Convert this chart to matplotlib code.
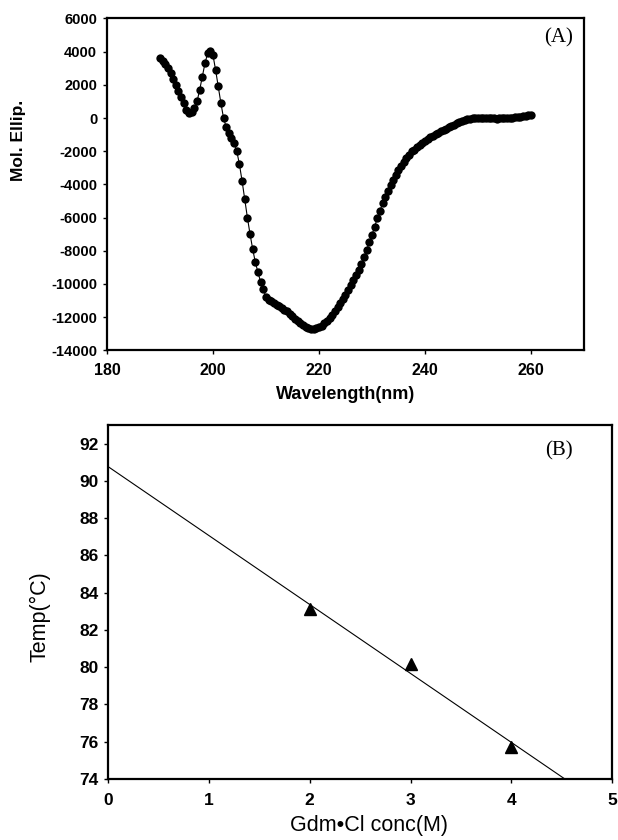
import numpy as np
import matplotlib
matplotlib.use("Agg")
import matplotlib.pyplot as plt

# panel A: CD spectrum, 0.5 nm steps from 190 to 260 nm
wavelength = np.arange(190.0, 260.01, 0.5)
mol_ellip = [
    3600, 3450, 3250, 3000, 2700, 2350, 2000, 1650, 1250, 900,
    500, 300, 350, 600, 1000, 1700, 2500, 3300, 3900, 4050,
    3800, 2900, 1900, 900, 0, -550, -900, -1200, -1500, -2000,
    -2800, -3800, -4900, -6000, -7000, -7900, -8700, -9300, -9900, -10300,
    -10800, -10950, -11050, -11150, -11250, -11350, -11450, -11550, -11650, -11800,
    -11950, -12100, -12250, -12380, -12480, -12570, -12640, -12690, -12700, -12680,
    -12620, -12520, -12380, -12220, -12040, -11850, -11640, -11420, -11180, -10920,
    -10650, -10370, -10080, -9780, -9470, -9150, -8800, -8400, -7950, -7500,
    -7050, -6550, -6050, -5600, -5150, -4750, -4400, -4050, -3750, -3450,
    -3150, -2900, -2650, -2400, -2200, -2000, -1900, -1750, -1600, -1480,
    -1370, -1260, -1160, -1060, -970, -880, -800, -720, -640, -560,
    -480, -400, -320, -250, -180, -120, -70, -40, -20, -10,
    0, 0, -10, -10, 0, 0, -20, -30, -20, -10,
    0, 0, 20, 20, 40, 60, 80, 100, 130, 170, 170,
]
mol_ellip = mol_ellip[:len(wavelength)]

# panel B: melting temperature vs denaturant
gdm_conc = [2, 3, 4]
temp_c = [83.1, 80.2, 75.7]

a_xticks = [180, 200, 220, 240, 260]
a_yticks = list(range(-14000, 6001, 2000))
b_xticks = [0, 1, 2, 3, 4, 5]
b_yticks = list(range(74, 93, 2))

bold_font = {"family": "Liberation Sans", "weight": "bold"}

fig = plt.figure(figsize=(6.18, 8.4), dpi=100)

# --- (A)
ax1 = fig.add_axes([0.173, 0.583, 0.772, 0.395])
ax1.plot(wavelength, mol_ellip, "-o", color="black", linewidth=0.8,
         markersize=6, markeredgewidth=0)
ax1.set_xlim(180, 270)
ax1.set_ylim(-14000, 6000)
ax1.set_xticks(a_xticks)
ax1.set_yticks(a_yticks)
ax1.set_xticklabels([str(t) for t in a_xticks], fontdict=bold_font, fontsize=11.5)
ax1.set_yticklabels([str(t) for t in a_yticks], fontdict=bold_font, fontsize=10.5)
ax1.tick_params(axis="x", pad=6)
ax1.tick_params(axis="y", pad=4)
ax1.set_xlabel("Wavelength(nm)", fontdict=bold_font, fontsize=13, labelpad=6)
ax1.set_ylabel("Mol. Ellip.", fontdict=bold_font, fontsize=12.5)
ax1.yaxis.set_label_coords(-0.17, 0.633)
ax1.text(0.977, 0.97, "(A)", transform=ax1.transAxes, ha="right", va="top",
         family="Liberation Serif", fontsize=15)

# --- (B)
ax2 = fig.add_axes([0.175, 0.0726, 0.8155, 0.4214])
ax2.plot(gdm_conc, temp_c, "^", color="black", markersize=8.5)
slope, intercept = np.polyfit(gdm_conc, temp_c, 1)
fit_x = np.array([0.0, 5.0])
ax2.plot(fit_x, slope * fit_x + intercept, color="black", linewidth=0.8)
ax2.set_xlim(0, 5)
ax2.set_ylim(74, 93)
ax2.set_xticks(b_xticks)
ax2.set_yticks(b_yticks)
ax2.set_xticklabels([str(t) for t in b_xticks], fontdict=bold_font, fontsize=12.5)
ax2.set_yticklabels([str(t) for t in b_yticks], fontdict=bold_font, fontsize=12.5)
ax2.tick_params(axis="x", pad=7)
ax2.tick_params(axis="y", pad=4)
ax2.set_xlabel("Gdm\u2022Cl conc(M)", family="Liberation Sans", fontsize=15.5, labelpad=5)
ax2.xaxis.label.set_x(0.518)
ax2.set_ylabel("Temp(\u00b0C)", family="Liberation Sans", fontsize=15.5)
ax2.yaxis.set_label_coords(-0.115, 0.458)
ax2.text(0.921, 0.955, "(B)", transform=ax2.transAxes, ha="right", va="top",
         family="Liberation Serif", fontsize=15)

for ax in (ax1, ax2):
    for side in ("left", "bottom", "top", "right"):
        ax.spines[side].set_linewidth(1.6)
    ax.tick_params(direction="out", length=3, width=1)

fig.savefig("out.png", dpi=100)
